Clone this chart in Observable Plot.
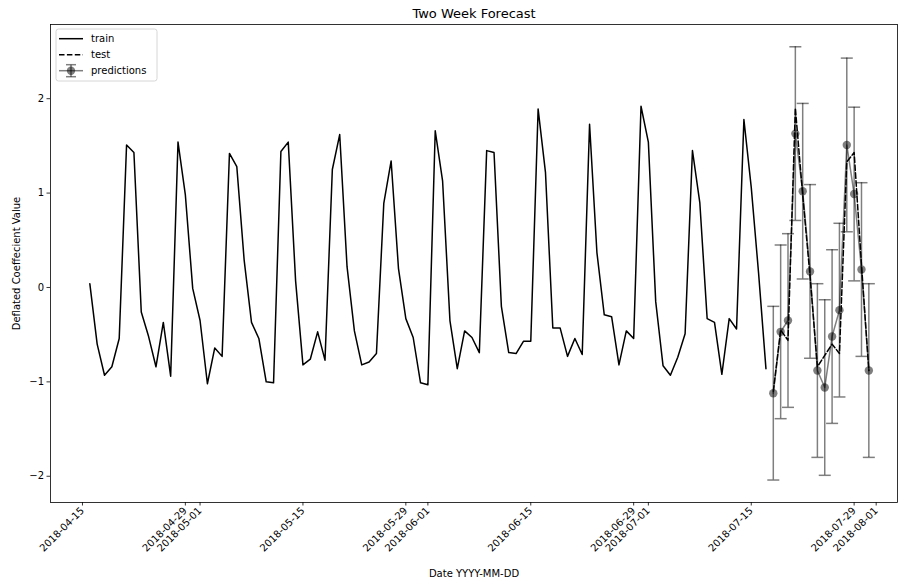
<!DOCTYPE html>
<html><head><meta charset="utf-8">
<script src="https://cdn.jsdelivr.net/npm/d3@7"></script>
<script src="https://cdn.jsdelivr.net/npm/@observablehq/plot@0.6"></script>
<style>body{margin:0;background:#fff;} #chart{width:904px;height:580px;}</style>
</head><body><div id="chart"></div>
<script>
// ---- data ----
const trainStart = "2018-04-16";
const trainValues = [
  0.04, -0.60, -0.93, -0.84, -0.54, 1.51, 1.43, -0.26, -0.52, -0.84,
  -0.37, -0.94, 1.54, 0.98, -0.01, -0.35, -1.02, -0.64, -0.73, 1.42,
  1.28, 0.29, -0.37, -0.54, -1.00, -1.01, 1.44, 1.54, 0.07, -0.82,
  -0.76, -0.47, -0.77, 1.25, 1.62, 0.22, -0.46, -0.82, -0.79, -0.70,
  0.89, 1.34, 0.20, -0.33, -0.53, -1.01, -1.03, 1.66, 1.13, -0.35,
  -0.86, -0.46, -0.53, -0.69, 1.45, 1.43, -0.20, -0.69, -0.70, -0.57,
  -0.57, 1.89, 1.22, -0.43, -0.43, -0.73, -0.54, -0.71, 1.73, 0.37,
  -0.29, -0.31, -0.82, -0.46, -0.54, 1.92, 1.54, -0.15, -0.83, -0.93,
  -0.74, -0.49, 1.45, 0.90, -0.33, -0.37, -0.92, -0.33, -0.44, 1.78,
  1.06, 0.15, -0.86
];
const testStart = "2018-07-18";
const testValues = [-1.10, -0.45, -0.56, 1.90, 0.98, 0.12, -0.84, -0.72, -0.60, -0.70, 1.33, 1.43, 0.24, -0.88];
const predictionValues = [-1.12, -0.47, -0.35, 1.63, 1.02, 0.17, -0.88, -1.06, -0.52, -0.24, 1.51, 0.99, 0.19, -0.88];
const predictionErrors = [0.92, 0.92, 0.92, 0.92, 0.93, 0.92, 0.92, 0.93, 0.92, 0.92, 0.92, 0.92, 0.92, 0.92];
const xTickLabels = ["2018-04-15","2018-04-29","2018-05-01","2018-05-15","2018-05-29","2018-06-01",
  "2018-06-15","2018-06-29","2018-07-01","2018-07-15","2018-07-29","2018-08-01"];
const yTickValues = [-2, -1, 0, 1, 2];
const titleText = "Two Week Forecast";
const xLabel = "Date YYYY-MM-DD";
const yLabel = "Deflated Coeffecient Value";
const legendLabels = ["train", "test", "predictions"];

// ---- build tables ----
const DAY = 864e5;
const parse = s => new Date(s + "T00:00:00Z");
const train = trainValues.map((v, i) => ({date: new Date(+parse(trainStart) + i * DAY), value: v}));
const test = testValues.map((v, i) => ({date: new Date(+parse(testStart) + i * DAY), value: v}));
const preds = predictionValues.map((v, i) => ({
  date: new Date(+parse(testStart) + i * DAY), value: v,
  lo: v - predictionErrors[i], hi: v + predictionErrors[i]
}));
const xTicks = xTickLabels.map(parse);
const fmt = d3.utcFormat("%Y-%m-%d");
const ref = +parse("2018-04-15");
const xDomain = [new Date(ref - 4.35 * DAY), new Date(ref + 110.9 * DAY)];

const capSymbol = {
  draw(context, size) {
    const w = Math.sqrt(size / Math.PI);
    context.moveTo(-w, 0);
    context.lineTo(w, 0);
  }
};

const GRAY = "#000";
const chart = Plot.plot({
  width: 904, height: 580,
  marginTop: 24, marginLeft: 50, marginRight: 7, marginBottom: 78,
  style: {fontFamily: "DejaVu Sans", fontSize: "10px", color: "#000", background: "#fff"},
  x: {type: "utc", domain: xDomain},
  y: {domain: [-2.278, 2.786]},
  marks: [
    Plot.frame({stroke: "#000", strokeWidth: 0.8}),
    Plot.axisX({ticks: xTicks, tickFormat: fmt, tickRotate: -45, tickSize: 3.5, tickPadding: 3,
      strokeWidth: 0.8, fontSize: 10, label: xLabel, labelAnchor: "center", labelOffset: 74, labelArrow: "none"}),
    Plot.axisY({ticks: yTickValues, tickFormat: d3.format("d"), tickSize: 3.5, tickPadding: 3, strokeWidth: 0.8, fontSize: 10,
      label: yLabel, labelAnchor: "center", labelOffset: 38, labelArrow: "none"}),
    Plot.lineY(train, {x: "date", y: "value", stroke: "#000", strokeWidth: 1.5}),
    Plot.lineY(test, {x: "date", y: "value", stroke: "#000", strokeWidth: 1.5, strokeDasharray: "5.5,2.4"}),
    Plot.ruleX(preds, {x: "date", y1: "lo", y2: "hi", stroke: GRAY, strokeOpacity: 0.5, strokeWidth: 1.5}),
    Plot.dot(preds, {x: "date", y: "lo", symbol: capSymbol, r: 6, fill: "none", stroke: GRAY, strokeOpacity: 0.5, strokeWidth: 1.5}),
    Plot.dot(preds, {x: "date", y: "hi", symbol: capSymbol, r: 6, fill: "none", stroke: GRAY, strokeOpacity: 0.5, strokeWidth: 1.5}),
    Plot.lineY(preds, {x: "date", y: "value", stroke: GRAY, strokeOpacity: 0.5, strokeWidth: 1.5}),
    Plot.dot(preds, {x: "date", y: "value", r: 4.2, fill: GRAY, fillOpacity: 0.5, stroke: "none"}),
    Plot.text([titleText], {frameAnchor: "top", lineAnchor: "middle", dy: -11, fontSize: 13, fill: "#000"})
  ]
});
document.getElementById("chart").appendChild(chart);

// ---- legend (upper left, inside the frame) ----
const svg = d3.select(chart);
const lg = svg.append("g").attr("transform", "translate(56,29)")
  .style("font-family", "DejaVu Sans").style("font-size", "10px");
lg.append("rect").attr("width", 101).attr("height", 52).attr("rx", 2.5)
  .attr("fill", "#fff").attr("fill-opacity", 0.8).attr("stroke", "#ccc").attr("stroke-width", 0.8);
const rows = [9.7, 25.7, 41.7];
legendLabels.forEach((lab, i) => {
  const y = rows[i];
  const g = lg.append("g");
  if (i < 2) {
    g.append("line").attr("x1", 3).attr("x2", 27).attr("y1", y).attr("y2", y)
      .attr("stroke", "#000").attr("stroke-width", 1.5)
      .attr("stroke-dasharray", i === 1 ? "5.5,2.4" : null);
  } else {
    const s = g.append("g").attr("stroke", "#000").attr("stroke-opacity", 0.5).attr("stroke-width", 1.5);
    s.append("line").attr("x1", 3).attr("x2", 27).attr("y1", y).attr("y2", y);
    s.append("line").attr("x1", 15).attr("x2", 15).attr("y1", y - 6).attr("y2", y + 6);
    s.append("line").attr("x1", 10).attr("x2", 20).attr("y1", y - 6).attr("y2", y - 6);
    s.append("line").attr("x1", 10).attr("x2", 20).attr("y1", y + 6).attr("y2", y + 6);
    g.append("circle").attr("cx", 15).attr("cy", y).attr("r", 4.2).attr("fill", "#000").attr("fill-opacity", 0.5);
  }
  g.append("text").attr("x", 35).attr("y", y).attr("dy", "0.35em")
    .attr("text-anchor", "start").attr("fill", "#000").text(lab);
});
</script>
</body></html>
